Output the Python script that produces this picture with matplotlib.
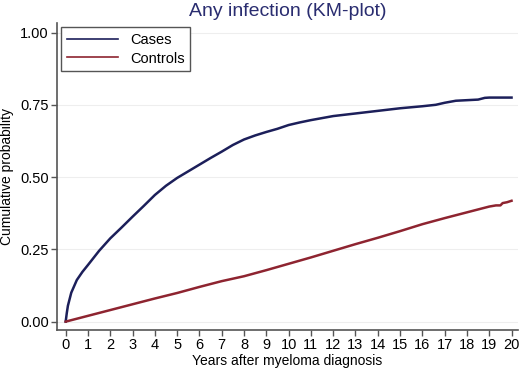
import matplotlib.pyplot as plt
import numpy as np

plt.rcParams.update({
    'font.family': ['Liberation Sans', 'DejaVu Sans'],
    'font.size': 10,
})

# Kaplan-Meier cumulative probability
years_cases = [0, 0.05, 0.1, 0.25, 0.5, 0.75, 1, 1.5, 2, 2.5, 3, 3.5, 4, 4.5, 5,
               5.5, 6, 6.5, 7, 7.5, 8, 8.5, 9, 9.5, 10, 10.5, 11, 12, 13, 14,
               15, 16, 16.6, 17, 17.5, 18, 18.5, 18.8, 19, 20]
cases = [0, 0.03, 0.055, 0.1, 0.144, 0.172, 0.196, 0.245, 0.288, 0.325, 0.363, 0.4,
         0.438, 0.47, 0.497, 0.52, 0.543, 0.566, 0.588, 0.611, 0.63, 0.644, 0.656,
         0.667, 0.68, 0.689, 0.697, 0.711, 0.72, 0.729, 0.738, 0.745, 0.75, 0.757,
         0.764, 0.766, 0.768, 0.774, 0.775, 0.775]

years_ctrl = [0, 1, 2, 3, 4, 5, 6, 7, 8, 9, 10, 11, 12, 13, 14, 15, 16, 17, 18,
              18.5, 19, 19.3, 19.5, 19.6, 19.8, 20]
controls = [0, 0.02, 0.04, 0.06, 0.08, 0.099, 0.12, 0.14, 0.157, 0.178, 0.2, 0.222,
            0.245, 0.268, 0.29, 0.313, 0.337, 0.358, 0.378, 0.388, 0.398, 0.402,
            0.402, 0.41, 0.413, 0.418]

xticks = list(range(0, 21))
yticks = [0, 0.25, 0.5, 0.75, 1.0]

navy = '#1c1f5a'
title_col = '#2a2d70'
maroon = '#8e2430'
axis_gray = '#555555'

fig = plt.figure(figsize=(5.2, 3.69), dpi=100)
ax = fig.add_axes([0.1096, 0.1057, 0.887, 0.832])

ax.plot(years_cases, cases, color=navy, lw=1.8, label='Cases')
ax.plot(years_ctrl, controls, color=maroon, lw=1.8, label='Controls')

ax.set_xlim(-0.39, 20.3)
ax.set_ylim(-0.029, 1.033)
ax.set_xticks(xticks)
ax.set_yticks(yticks)
ax.set_yticklabels([f'{v:.2f}' for v in yticks])
ax.grid(True, axis='y', color='#eeeeee', lw=0.8)
ax.set_axisbelow(True)

for s in ['top', 'right']:
    ax.spines[s].set_visible(False)
for s in ['left', 'bottom']:
    ax.spines[s].set_color(axis_gray)
    ax.spines[s].set_linewidth(1.2)
ax.tick_params(direction='out', length=4, width=1.0, color=axis_gray, labelsize=10.5, pad=2)

ax.set_title('Any infection (KM-plot)', color=title_col, fontsize=14, pad=5)
ax.set_xlabel('Years after myeloma diagnosis', fontsize=10, labelpad=1)
ax.set_ylabel('Cumulative probability', fontsize=10, labelpad=4)

leg = ax.legend(loc='upper left', fontsize=10.5, handlelength=3.5, fancybox=False,
                edgecolor=axis_gray, framealpha=1, borderaxespad=0.3,
                labelspacing=0.3, handletextpad=0.8)
for line in leg.get_lines():
    line.set_linewidth(1.2)
leg.get_frame().set_linewidth(1.0)

fig.savefig('out.png', dpi=100)
